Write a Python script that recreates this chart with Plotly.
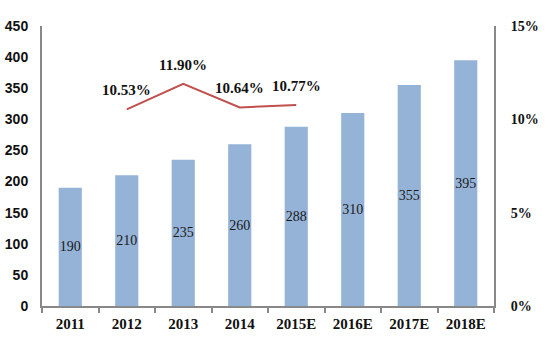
import plotly.graph_objects as go

categories = ["2011", "2012", "2013", "2014", "2015E", "2016E", "2017E", "2018E"]
values = [190, 210, 235, 260, 288, 310, 355, 395]
growth_cats = ["2012", "2013", "2014", "2015E"]
growth = [10.53, 11.90, 10.64, 10.77]
growth_labels = ["10.53%", "11.90%", "10.64%", "10.77%"]

fig = go.Figure()
fig.add_trace(go.Bar(
    x=categories, y=values, text=[str(v) for v in values],
    textposition="inside", insidetextanchor="middle", textangle=0,
    constraintext="none",
    textfont=dict(family="Liberation Serif", size=14, color="#1a1a1a"),
    marker=dict(color="#95B3D7", line=dict(width=0)),
    showlegend=False,
))
fig.add_trace(go.Scatter(
    x=growth_cats, y=growth, yaxis="y2", mode="lines",
    line=dict(color="#C0504D", width=2), showlegend=False,
))
for c, g, lab in zip(growth_cats, growth, growth_labels):
    fig.add_annotation(
        x=categories.index(c), y=g, yref="y2", text=lab, showarrow=False, yshift=19,
        font=dict(family="Liberation Serif", size=15, color="#111111", weight="bold"),
    )
fig.update_layout(
    width=549, height=351,
    margin=dict(l=42, r=55, t=26, b=45),
    paper_bgcolor="white", plot_bgcolor="white",
    bargap=0.59,
    xaxis=dict(
        type="category", categoryorder="array", categoryarray=categories,
        range=[-0.5, len(categories) - 0.5],
        showgrid=False, showline=True, linecolor="#888888", linewidth=2,
        ticks="outside", tickson="boundaries", ticklen=5, tickcolor="#888888", tickwidth=2,
        tickfont=dict(family="Liberation Serif", size=15, color="#111111", weight="bold"),
        tickangle=0, automargin=False, ticklabelstandoff=3,
    ),
    yaxis=dict(
        range=[0, 450], dtick=50, showgrid=False, zeroline=False,
        showline=True, linecolor="#888888", linewidth=2, ticks="",
        tickfont=dict(family="Liberation Sans", size=14, color="#111111", weight="bold"),
        ticklabelstandoff=9, automargin=False,
    ),
    yaxis2=dict(
        range=[0, 15], dtick=5, overlaying="y", side="right", showgrid=False, zeroline=False,
        showline=True, linecolor="#888888", linewidth=2, ticks="",
        ticksuffix="%",
        tickfont=dict(family="Liberation Serif", size=14, color="#111111", weight="bold"),
        ticklabelstandoff=12, automargin=False,
    ),
)
fig.write_html("out.html")
